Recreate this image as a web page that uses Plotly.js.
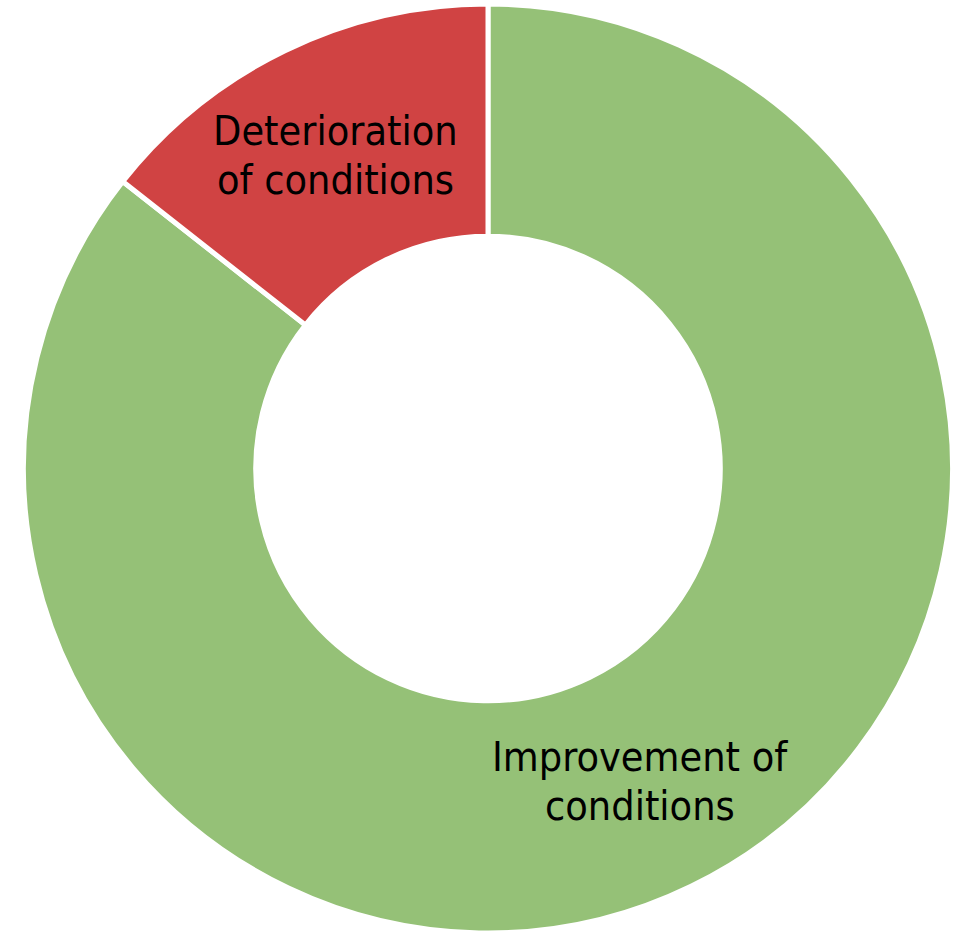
<!DOCTYPE html>
<html>
<head>
<meta charset="utf-8">
<script src="https://cdn.plot.ly/plotly-3.0.1.min.js"></script>
<style>
  html, body { margin: 0; padding: 0; background: #ffffff; }
  #chart { width: 963px; height: 933px; }
</style>
</head>
<body>
<div id="chart"></div>
<script>
// Share of responses: change in conditions
const categories = ['Improvement of conditions', 'Deterioration of conditions'];
const labelLines = [['Improvement of', 'conditions'], ['Deterioration', 'of conditions']];
const shares = [85.6, 14.4];
const sliceColors = ['#95C177', '#D04343'];

const W = 963, H = 933;
const domainX = [0.0244, 0.9891];
const domainY = [0.0, 0.9957];
const hole = 0.5;
const fontSize = 41;
const lineGap = 49;

// Place each label at the middle of its slice, halfway across the ring,
// one annotation per text line so the line spacing can be set exactly
function sliceLabels() {
  const cx = (domainX[0] + domainX[1]) / 2 * W;
  const cy = (domainY[0] + domainY[1]) / 2 * H;
  const r = Math.min((domainX[1] - domainX[0]) * W, (domainY[1] - domainY[0]) * H) / 2;
  const rMid = r * (1 + hole) / 2;
  const total = shares.reduce((a, b) => a + b, 0);
  const notes = [];
  let start = 0;
  shares.forEach((v, i) => {
    const mid = (start + v / 2) / total * 2 * Math.PI;
    start += v;
    const x = cx + rMid * Math.sin(mid);
    const y = cy + rMid * Math.cos(mid);
    const lines = labelLines[i];
    lines.forEach((line, j) => {
      notes.push({
        x: x / W, y: y / H, xref: 'paper', yref: 'paper',
        yshift: ((lines.length - 1) / 2 - j) * lineGap,
        text: line, showarrow: false,
        xanchor: 'center', yanchor: 'middle', align: 'center',
        font: { family: 'DejaVu Sans Condensed, DejaVu Sans', size: fontSize, color: '#000000' }
      });
    });
  });
  return notes;
}

const trace = {
  type: 'pie',
  labels: categories,
  values: shares,
  sort: false,
  direction: 'clockwise',
  rotation: 0,
  hole: hole,
  textinfo: 'none',
  hoverinfo: 'label+percent',
  marker: { colors: sliceColors, line: { color: '#ffffff', width: 5 } },
  domain: { x: domainX, y: domainY },
  showlegend: false
};

Plotly.newPlot('chart', [trace], {
  width: W, height: H,
  margin: { l: 0, r: 0, t: 0, b: 0 },
  paper_bgcolor: '#ffffff',
  plot_bgcolor: '#ffffff',
  annotations: sliceLabels()
}, { displayModeBar: false, staticPlot: true });
</script>
</body>
</html>
